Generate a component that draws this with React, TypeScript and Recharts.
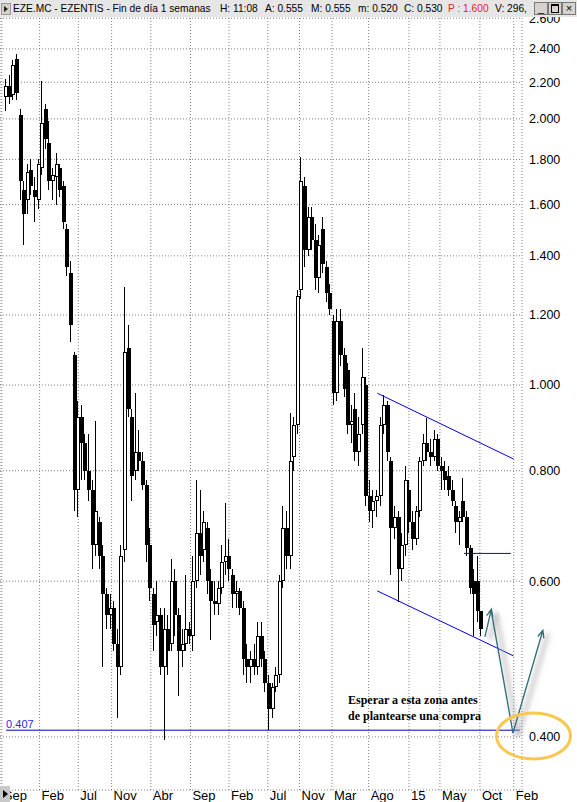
import React from "react";
import {
  ComposedChart,
  Bar,
  XAxis,
  YAxis,
  CartesianGrid,
  ReferenceLine,
  ReferenceDot,
} from "recharts";

const FONT = "'Liberation Sans', Arial, sans-serif";
const SERIF = "'Liberation Serif', 'Times New Roman', serif";

// ── Weekly candles (two weeks per bar), slot 1 .. 133 ─────────────────────────

const OPEN = [
  2.12, 2.18, 2.13, 2.34, 2.02, 1.66, 1.62, 1.75, 1.66, 1.62,
  1.76, 2.05, 1.88, 1.70, 1.72, 1.76, 1.68, 1.50, 1.34, 1.08,
  0.76, 0.92, 0.86, 0.80, 0.76, 0.66, 0.70, 0.64, 0.58, 0.55,
  0.56, 0.51, 0.48, 0.65, 1.10, 0.92, 0.80, 0.84, 0.82, 0.77,
  0.66, 0.58, 0.54, 0.55, 0.48, 0.53, 0.51, 0.60, 0.55, 0.50,
  0.51, 0.53, 0.52, 0.60, 0.68, 0.65, 0.69, 0.60, 0.57, 0.565,
  0.59, 0.63, 0.64, 0.61, 0.58, 0.585, 0.56, 0.49, 0.48, 0.49,
  0.48, 0.52, 0.49, 0.46, 0.43, 0.455, 0.47, 0.60, 0.69, 0.64,
  0.83, 0.90, 1.28, 1.68, 1.42, 1.55, 1.46, 1.32, 1.50, 1.36,
  1.27, 1.18, 0.98, 1.18, 1.08, 1.04, 0.90, 0.94, 0.84, 0.90,
  1.00, 0.75, 0.72, 0.74, 0.75, 0.90, 0.95, 0.82, 0.69, 0.71,
  0.62, 0.66, 0.76, 0.70, 0.67, 0.72, 0.82, 0.86, 0.84, 0.83,
  0.87, 0.81, 0.80, 0.79, 0.76, 0.73, 0.70, 0.74, 0.71, 0.655,
  0.60, 0.60, 0.555,
];
const HIGH = [
  2.22, 2.24, 2.33, 2.37, 2.05, 1.70, 1.78, 1.80, 1.72, 1.80,
  2.21, 2.08, 1.99, 1.76, 1.83, 1.78, 1.70, 1.52, 1.38, 1.09,
  0.96, 0.95, 0.88, 0.88, 0.78, 0.91, 0.71, 0.66, 0.59, 0.58,
  0.57, 0.53, 0.66, 1.29, 1.17, 0.94, 0.98, 0.89, 0.84, 0.78,
  0.69, 0.59, 0.60, 0.56, 0.56, 0.55, 0.635, 0.62, 0.56, 0.53,
  0.61, 0.54, 0.64, 0.78, 0.76, 0.72, 0.70, 0.62, 0.60, 0.60,
  0.66, 0.735, 0.67, 0.62, 0.60, 0.59, 0.57, 0.51, 0.50, 0.51,
  0.54, 0.54, 0.50, 0.47, 0.46, 0.48, 0.61, 0.73, 0.72, 0.93,
  0.92, 1.28, 1.81, 1.72, 1.59, 1.59, 1.52, 1.48, 1.55, 1.38,
  1.30, 1.20, 1.22, 1.22, 1.10, 1.06, 0.95, 0.98, 0.92, 1.10,
  1.02, 0.78, 0.76, 0.76, 0.92, 0.975, 0.96, 0.83, 0.73, 0.72,
  0.68, 0.81, 0.78, 0.72, 0.73, 0.83, 0.88, 0.917, 0.87, 0.89,
  0.88, 0.83, 0.82, 0.81, 0.78, 0.74, 0.72, 0.785, 0.72, 0.66,
  0.62, 0.64, 0.555,
];
const LOW = [
  2.04, 2.08, 2.10, 2.10, 1.62, 1.44, 1.56, 1.64, 1.53, 1.58,
  1.73, 1.85, 1.66, 1.62, 1.60, 1.63, 1.50, 1.33, 1.12, 0.72,
  0.71, 0.78, 0.78, 0.74, 0.62, 0.64, 0.62, 0.48, 0.53, 0.53,
  0.50, 0.42, 0.47, 0.63, 0.92, 0.74, 0.78, 0.80, 0.76, 0.63,
  0.57, 0.50, 0.52, 0.47, 0.397, 0.47, 0.50, 0.52, 0.445, 0.48,
  0.50, 0.51, 0.50, 0.59, 0.61, 0.63, 0.58, 0.515, 0.55, 0.55,
  0.58, 0.61, 0.60, 0.56, 0.56, 0.55, 0.47, 0.46, 0.46, 0.47,
  0.47, 0.48, 0.45, 0.407, 0.42, 0.45, 0.46, 0.59, 0.62, 0.62,
  0.80, 0.88, 1.25, 1.36, 1.40, 1.42, 1.28, 1.27, 1.34, 1.24,
  1.20, 0.95, 0.96, 1.05, 0.97, 0.88, 0.86, 0.82, 0.81, 0.88,
  0.73, 0.70, 0.69, 0.71, 0.73, 0.88, 0.82, 0.61, 0.67, 0.568,
  0.60, 0.64, 0.68, 0.65, 0.66, 0.71, 0.81, 0.82, 0.81, 0.82,
  0.80, 0.76, 0.76, 0.75, 0.73, 0.68, 0.66, 0.70, 0.64, 0.58,
  0.52, 0.54, 0.520,
];
const CLOSE = [
  2.18, 2.12, 2.30, 2.14, 1.70, 1.56, 1.74, 1.68, 1.63, 1.78,
  1.98, 1.90, 1.70, 1.73, 1.78, 1.66, 1.53, 1.36, 1.17, 0.76,
  0.92, 0.86, 0.80, 0.76, 0.66, 0.72, 0.64, 0.58, 0.55, 0.56,
  0.51, 0.48, 0.64, 1.09, 0.94, 0.79, 0.84, 0.82, 0.77, 0.66,
  0.59, 0.535, 0.55, 0.48, 0.53, 0.50, 0.60, 0.55, 0.50, 0.51,
  0.53, 0.52, 0.60, 0.68, 0.64, 0.70, 0.60, 0.57, 0.565, 0.59,
  0.63, 0.64, 0.62, 0.58, 0.585, 0.56, 0.49, 0.48, 0.49, 0.48,
  0.52, 0.49, 0.46, 0.43, 0.455, 0.47, 0.60, 0.69, 0.64, 0.82,
  0.90, 1.26, 1.70, 1.42, 1.55, 1.46, 1.32, 1.44, 1.37, 1.27,
  1.22, 0.98, 1.18, 1.08, 0.99, 0.90, 0.91, 0.84, 0.88, 1.02,
  0.75, 0.72, 0.74, 0.75, 0.90, 0.95, 0.84, 0.69, 0.71, 0.62,
  0.66, 0.78, 0.70, 0.67, 0.72, 0.82, 0.86, 0.84, 0.83, 0.87,
  0.81, 0.80, 0.78, 0.76, 0.74, 0.70, 0.71, 0.71, 0.655, 0.59,
  0.58, 0.555, 0.530,
];

// ── Axes ──────────────────────────────────────────────────────────────────────

const X_TICKS = [0, 10.5, 21.25, 30.5, 41.4, 52.4, 63.1, 73.9, 82.7, 91.7, 101.9, 113.1, 121.7, 132.8, 142.2];
const X_LABELS = ["Sep", "Feb", "Jul", "Nov", "Abr", "Sep", "Feb", "Jul", "Nov", "Mar", "Ago", "15", "May", "Oct", "Feb"];
const Y_TICKS = [0.4, 0.6, 0.8, 1.0, 1.2, 1.4, 1.6, 1.8, 2.0, 2.2, 2.4, 2.6];

// ── Drawn annotations (slot, price) ───────────────────────────────────────────

const SUPPORT = 0.407;
const CHANNEL_TOP = [{ x: 104.3, y: 0.979 }, { x: 142.1, y: 0.825 }];
const CHANNEL_BOTTOM = [{ x: 104.3, y: 0.585 }, { x: 142.1, y: 0.494 }];
const RESIST = [{ x: 128.4, y: 0.645 }, { x: 141.4, y: 0.645 }];
const BOUNCE = [{ x: 134.2, y: 0.519 }, { x: 136.0, y: 0.558 }];
const DROP = [{ x: 136.0, y: 0.554 }, { x: 142.0, y: 0.404 }];
const REBOUND = [{ x: 142.0, y: 0.404 }, { x: 150.3, y: 0.528 }];
const TARGET = { x: 147.7, y: 0.401 };

const candles = OPEN.map((o, k) => ({
  i: k + 1,
  o,
  h: HIGH[k],
  l: LOW[k],
  c: CLOSE[k],
}));

const BLUE = "#0000f0";
const TEAL = "#2e6c78";

function Candle(props: any) {
  const { x, y, width, height, payload } = props;
  if (!payload || !isFinite(y) || !isFinite(height)) return null;
  const { o, h, l, c } = payload;
  const span = Math.log(h) - Math.log(l) || 1;
  const at = (v: number) => y + (height * (Math.log(h) - Math.log(v))) / span;
  const cx = Math.round(x + width / 2);
  const top = Math.round(at(Math.max(o, c)));
  const bot = Math.round(at(Math.min(o, c)));
  const bodyH = Math.max(1, bot - top);
  const up = c >= o;
  return (
    <g shapeRendering="crispEdges">
      <line x1={cx + 0.5} x2={cx + 0.5} y1={y} y2={y + height} stroke="#000" strokeWidth={1} />
      {up ? (
        <rect x={cx - 0.5} y={top + 0.5} width={3} height={Math.max(0, bodyH - 1)} fill="#fff" stroke="#000" strokeWidth={1} />
      ) : (
        <rect x={cx - 1} y={top} width={4} height={bodyH} fill="#000" />
      )}
    </g>
  );
}

function arrowPath(x1: number, y1: number, x2: number, y2: number, head: boolean) {
  let d = `M${x1},${y1}L${x2},${y2}`;
  if (head) {
    const ang = Math.atan2(y2 - y1, x2 - x1);
    const L = 8;
    const a = 0.4;
    const ax = x2 - L * Math.cos(ang - a);
    const ay = y2 - L * Math.sin(ang - a);
    const bx = x2 - L * Math.cos(ang + a);
    const by = y2 - L * Math.sin(ang + a);
    d += `M${ax},${ay}L${x2},${y2}L${bx},${by}`;
  }
  return d;
}

const arrowShape = (head: boolean) => (p: any) => {
  const { x1, y1, x2, y2 } = p;
  if (![x1, y1, x2, y2].every(isFinite)) return <g />;
  return (
    <g>
      <path d={arrowPath(x1 + 5, y1 + 3, x2 + 5, y2 + 3, false)} stroke="#9c9c9c" strokeWidth={5} strokeOpacity={0.45} fill="none" filter="url(#arrowShade)" />
      <path d={arrowPath(x1, y1, x2, y2, head)} stroke={TEAL} strokeWidth={1.3} fill="none" />
    </g>
  );
};

function XTick(props: any) {
  const { x, payload } = props;
  const k = X_TICKS.indexOf(payload.value);
  return (
    <text x={x + 2} y={800} fontFamily={FONT} fontSize={13} fill="#000" textAnchor="start">
      {X_LABELS[k]}
    </text>
  );
}

const HEADER = [
  { x: 13, t: "EZE.MC - EZENTIS - Fin de día 1 semanas", c: "#000" },
  { x: 220, t: "H: 11:08", c: "#000" },
  { x: 265, t: "A: 0.555", c: "#000" },
  { x: 311, t: "M: 0.555", c: "#000" },
  { x: 358, t: "m: 0.520", c: "#000" },
  { x: 404, t: "C: 0.530", c: "#000" },
  { x: 448, t: "P : 1.600", c: "#ee1c24" },
  { x: 495, t: "V: 296,", c: "#000" },
];

const winBtn: React.CSSProperties = {
  position: "absolute",
  top: 1,
  width: 12,
  height: 11,
  background: "#d6d3ce",
  border: "1px solid #7a7a7a",
  fontFamily: FONT,
  fontSize: 11,
  lineHeight: "10px",
  textAlign: "center",
  color: "#000",
};

export default function App() {
  return (
    <div style={{ position: "absolute", left: 0, top: 0, width: 577, height: 802, background: "#fff", overflow: "hidden" }}>
      <ComposedChart width={577} height={802} data={candles} margin={{ top: 0, right: 0, bottom: 0, left: 0 }}>
        <defs>
          <filter id="arrowShade" x="-50%" y="-50%" width="200%" height="200%">
            <feGaussianBlur stdDeviation="2.5" />
          </filter>
        </defs>
        <CartesianGrid stroke="#808080" strokeDasharray="1 2" strokeWidth={1} />
        <XAxis
          dataKey="i"
          type="number"
          domain={[-0.5, 144.5]}
          ticks={X_TICKS}
          interval={0}
          allowDataOverflow
          axisLine={false}
          tickLine={false}
          height={12}
          tick={<XTick />}
        />
        <YAxis
          orientation="right"
          scale="log"
          type="number"
          domain={[0.3483, 2.726]}
          allowDataOverflow
          ticks={Y_TICKS}
          interval={0}
          width={55}
          axisLine={false}
          tickLine={false}
          tickMargin={1}
          tickFormatter={(v: number) => v.toFixed(3)}
          tick={{ fontFamily: FONT, fontSize: 12.5, fill: "#000" }}
        />
        <Bar
          dataKey={(d: any) => [d.l, d.h]}
          barSize={3}
          shape={<Candle />}
          isAnimationActive={false}
        />

        <ReferenceLine
          segment={[{ x: 1.2, y: SUPPORT }, { x: 143.9, y: SUPPORT }]}
          stroke="#0000c0"
          strokeWidth={1}
          ifOverflow="visible"
          label={{ value: SUPPORT.toFixed(3), position: "insideBottomLeft", offset: 0, dy: -2, fill: "#2a2af0", fontSize: 11, fontFamily: FONT }}
        />
        <ReferenceLine segment={CHANNEL_TOP} stroke={BLUE} strokeWidth={1} ifOverflow="visible" />
        <ReferenceLine segment={CHANNEL_BOTTOM} stroke={BLUE} strokeWidth={1} ifOverflow="visible" />
        <ReferenceLine segment={RESIST} stroke={BLUE} strokeWidth={1} ifOverflow="visible" />

        <ReferenceLine segment={BOUNCE} ifOverflow="visible" shape={arrowShape(true)} />
        <ReferenceLine segment={DROP} ifOverflow="visible" shape={arrowShape(false)} />
        <ReferenceLine segment={REBOUND} ifOverflow="visible" shape={arrowShape(true)} />

        <ReferenceDot
          x={TARGET.x}
          y={TARGET.y}
          ifOverflow="visible"
          shape={(p: any) => (
            <ellipse cx={p.cx} cy={p.cy} rx={37} ry={23} fill="none" stroke="#fac74f" strokeWidth={3} />
          )}
        />
      </ComposedChart>

      {/* title bar, sits over the top of the plot */}
      <div style={{ position: "absolute", left: 0, top: 0, width: 577, height: 17, background: "#e6e6e6" }}>
        <div style={{ position: "absolute", left: 1, top: 3, width: 8, height: 10, background: "#d4d0c8", border: "1px solid #9a9a9a" }}>
          <div style={{ position: "absolute", left: 2, top: 2, width: 0, height: 0, borderTop: "3px solid transparent", borderBottom: "3px solid transparent", borderLeft: "4px solid #222" }} />
        </div>
        {HEADER.map((h) => (
          <span key={h.x} style={{ position: "absolute", left: h.x, top: 2, fontFamily: FONT, fontSize: 10.2, lineHeight: "13px", color: h.c, whiteSpace: "nowrap" }}>
            {h.t}
          </span>
        ))}
        <div style={{ ...winBtn, left: 534, top: 2 }}>_</div>
        <div style={{ ...winBtn, left: 548, top: 2 }}>
          <div style={{ position: "absolute", left: 2, top: 1, width: 6, height: 6, border: "1px solid #000", borderTopWidth: 2 }} />
        </div>
        <div style={{ ...winBtn, left: 562, top: 2 }}>×</div>
      </div>

      {/* note */}
      <div style={{ position: "absolute", left: 348, top: 692, fontFamily: SERIF, fontWeight: "bold", fontSize: 12, lineHeight: "16px", color: "#000", whiteSpace: "nowrap" }}>
        Esperar a esta zona antes
        <br />
        de plantearse una compra
      </div>

      {/* scroll handle */}
      <div style={{ position: "absolute", left: 0, top: 786, width: 10, height: 16, background: "#c8c8c8" }}>
        <div style={{ position: "absolute", left: 3, top: 4, width: 0, height: 0, borderTop: "4px solid transparent", borderBottom: "4px solid transparent", borderLeft: "5px solid #000" }} />
      </div>
    </div>
  );
}
